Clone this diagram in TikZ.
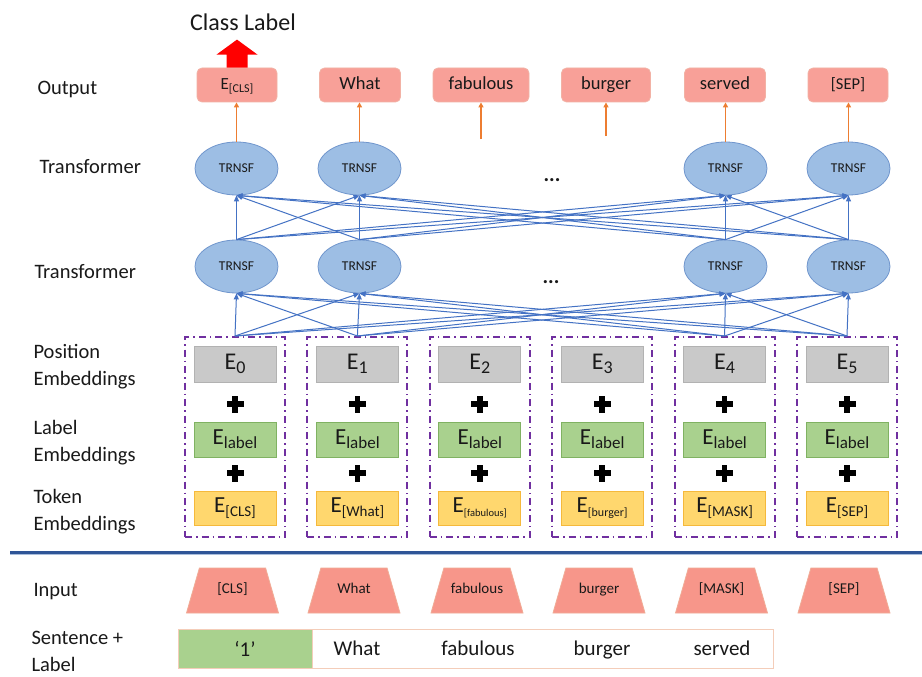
\documentclass[tikz,border=0pt]{standalone}
\usepackage{fontspec}
\setmainfont{Carlito}
\usetikzlibrary{shapes.geometric,arrows.meta,calc}
\definecolor{txt}{RGB}{25,25,25}
\definecolor{connblue}{RGB}{68,114,196}
\definecolor{ellfill}{RGB}{157,190,228}
\definecolor{elldraw}{RGB}{112,150,205}
\definecolor{salmon}{RGB}{248,160,152}
\definecolor{salmondraw}{RGB}{242,178,165}
\definecolor{inpfill}{RGB}{247,150,138}
\definecolor{inpdraw}{RGB}{240,172,150}
\definecolor{grayfill}{RGB}{201,201,201}
\definecolor{graydraw}{RGB}{178,178,178}
\definecolor{greenfill}{RGB}{169,209,142}
\definecolor{greendraw}{RGB}{128,178,98}
\definecolor{yellowfill}{RGB}{255,215,110}
\definecolor{yellowdraw}{RGB}{245,185,60}
\definecolor{purp}{RGB}{112,48,160}
\definecolor{orangeline}{RGB}{237,125,49}
\definecolor{sepblue}{RGB}{47,85,151}
\definecolor{sepshadow}{RGB}{170,190,220}
\definecolor{sentdraw}{RGB}{244,205,185}
\newcommand\fsz[1]{\fontsize{#1pt}{#1pt}\selectfont}
\newcommand\Esb[4]{{\fsz{#1}E}\raisebox{-#4pt}{\fsz{#2}#3}}
\begin{document}
\begin{tikzpicture}[x=1pt,y=-1pt,
  lbl/.style={anchor=west, align=left, text=txt, font={\fontsize{20.5pt}{27pt}\selectfont}},
  outbox/.style={rectangle, rounded corners=5pt, fill=salmon, draw=salmondraw, line width=0.8pt, minimum height=34pt, inner sep=0pt, text height=13pt, text depth=4pt, text=txt},
  trn/.style={ellipse, fill=ellfill, draw=elldraw, line width=0.8pt, minimum width=83pt, minimum height=53pt, inner sep=0pt, text=txt, font=\fsz{13.5}},
  grp/.style={draw=purp, line width=2pt, dash pattern=on 7pt off 4pt on 1.5pt off 4pt, minimum width=100pt, minimum height=200pt, inner sep=0pt},
  posbox/.style={fill=grayfill, draw=graydraw, line width=0.8pt, minimum width=82pt, minimum height=36pt, inner sep=0pt, text=txt},
  labbox/.style={fill=greenfill, draw=greendraw, line width=0.8pt, minimum width=82pt, minimum height=35pt, inner sep=0pt, text=txt},
  tokbox/.style={fill=yellowfill, draw=yellowdraw, line width=0.8pt, minimum width=82pt, minimum height=34pt, inner sep=0pt, text=txt},
  inp/.style={trapezium, trapezium left angle=74, trapezium right angle=74, trapezium stretches body,
    inner xsep=0pt, inner ysep=15pt, text height=10pt, text depth=5pt, minimum width=92pt,
    fill=inpfill, draw=inpdraw, line width=0.8pt, text=txt, font=\fsz{15}},
  conn/.style={draw=connblue, line width=1pt, -{Triangle[length=6pt,width=5pt]}},
  outarr/.style={draw=orangeline, line width=1.8pt, -{Triangle[length=5pt,width=5pt]}},
  word/.style={text=txt, font=\fsz{21}, inner sep=0pt, anchor=base}
]
\useasboundingbox (0,0) rectangle (922,677);
\fill[white] (0,0) rectangle (922,677);

% left labels
\node[lbl] (lOut) at (34,90) {Output};
\node[lbl] (lT1) at (36,167) {Transformer};
\node[lbl] (lT2) at (31,272) {Transformer};
\node[lbl] (lPos) at (30,366.5) {Position\\Embeddings};
\node[lbl] (lLab) at (30,443) {Label\\Embeddings};
\node[lbl] (lTok) at (30,511.5) {Token\\Embeddings};
\node[lbl] (lIn) at (30,592) {Input};
\node[lbl] (lSen) at (28,651) {Sentence +\\Label};

% embedding groups
\foreach \i/\x/\tok in {0/235/{\Esb{23}{15}{[CLS]}{4}},
                        1/357.4/{\Esb{23}{15}{[What]}{4}},
                        2/479.8/{\Esb{23}{10.5}{[fabulous]}{4}},
                        3/602.2/{\Esb{23}{12}{[burger]}{4}},
                        4/724.6/{\Esb{23}{15}{[MASK]}{4}},
                        5/847/{\Esb{23}{15}{[SEP]}{4}}}{
  \node[grp] (D\i) at (\x,437) {};
  \node[posbox] (P\i) at (\x,364) {\Esb{24}{18}{\i}{4}};
  \node[labbox] (G\i) at (\x,439.5) {\Esb{23}{17}{label}{4}};
  \node[tokbox] (K\i) at (\x,508) {\tok};
  \fill[black] (\x-8.5,401.2) rectangle (\x+8.5,406.8);
  \fill[black] (\x-2.8,395.5) rectangle (\x+2.8,412.5);
  \fill[black] (\x-8.5,470.2) rectangle (\x+8.5,475.8);
  \fill[black] (\x-2.8,464.5) rectangle (\x+2.8,481.5);
}

% transformer nodes
\foreach \i/\x in {0/236.5,1/359.5,4/725.5,5/848.5}{
  \node[trn] (U\i) at (\x,168.5) {TRNSF};
  \node[trn] (L\i) at (\x,266.5) {TRNSF};
}
\node[text=txt, font=\fsz{21}\bfseries] (dots1) at (552,180) {...};
\node[text=txt, font=\fsz{21}\bfseries] (dots2) at (551,282) {...};

% connections
\foreach \a in {0,1,4,5}{
  \foreach \b in {0,1,4,5}{
    \draw[conn] (L\a.north) -- (U\b.south);
    \draw[conn] (D\a.north) -- (L\b.south);
  }
}

% output row
\foreach \i/\x/\w/\s/\t in {0/237/80/10/{\Esb{17}{12}{[CLS]}{3}},
                         1/360/81/18.5/{What},
                         2/481/96/18.5/{fabulous},
                         3/606/89/18.5/{burger},
                         4/725/81/18.5/{served},
                         5/848/80/16.5/{[SEP]}}{
  \node[outbox, minimum width=\w pt, font=\fsz{\s}] (O\i) at (\x,85) {\t};
}
\coordinate (F2) at (481,139);
\coordinate (F3) at (606,136);
\foreach \i in {0,1,4,5}{
  \draw[outarr] (U\i.north) -- (U\i.north |- O\i.south);
}
\draw[outarr] (F2) -- (O2.south);
\draw[outarr] (F3) -- (O3.south);

% class label arrow
\fill[red] ([xshift=-10.5pt]O0.north) -- ++(0,-13) -- ++(-10,0) -- ++(20.5,-15) -- ++(20.5,15) -- ++(-10,0) -- ++(0,13) -- cycle;
\node[text=txt, font=\fsz{24}] (CL) at (243,22) {Class Label};

% separator
\draw[sepshadow, line width=1pt] (10,554.5) -- (922,554.5);
\draw[sepblue, line width=3pt] (10,552) -- (922,552);

% input row
\foreach \i/\x/\t in {0/232.5/{[CLS]},1/354/{What},2/477/{fabulous},3/599/{burger},4/721.5/{[MASK]},5/844/{[SEP]}}{
  \node[inp] (I\i) at (\x,590.5) {\t};
}

% sentence + label row
\node[fill=greenfill, draw=sentdraw, line width=0.8pt, minimum width=134pt, minimum height=39pt, inner sep=0pt, text=txt, font=\fsz{21}] (S0) at (245,648.5) {‘1’};
\node[draw=sentdraw, line width=0.8pt, minimum width=461pt, minimum height=39pt, inner sep=0pt] (S1) at (542.5,648.5) {};
\node[word] (W1) at (357,655.5) {What};
\node[word] (W2) at (478,655.5) {fabulous};
\node[word] (W3) at (602,655.5) {burger};
\node[word] (W4) at (722,655.5) {served};
\end{tikzpicture}
\end{document}
